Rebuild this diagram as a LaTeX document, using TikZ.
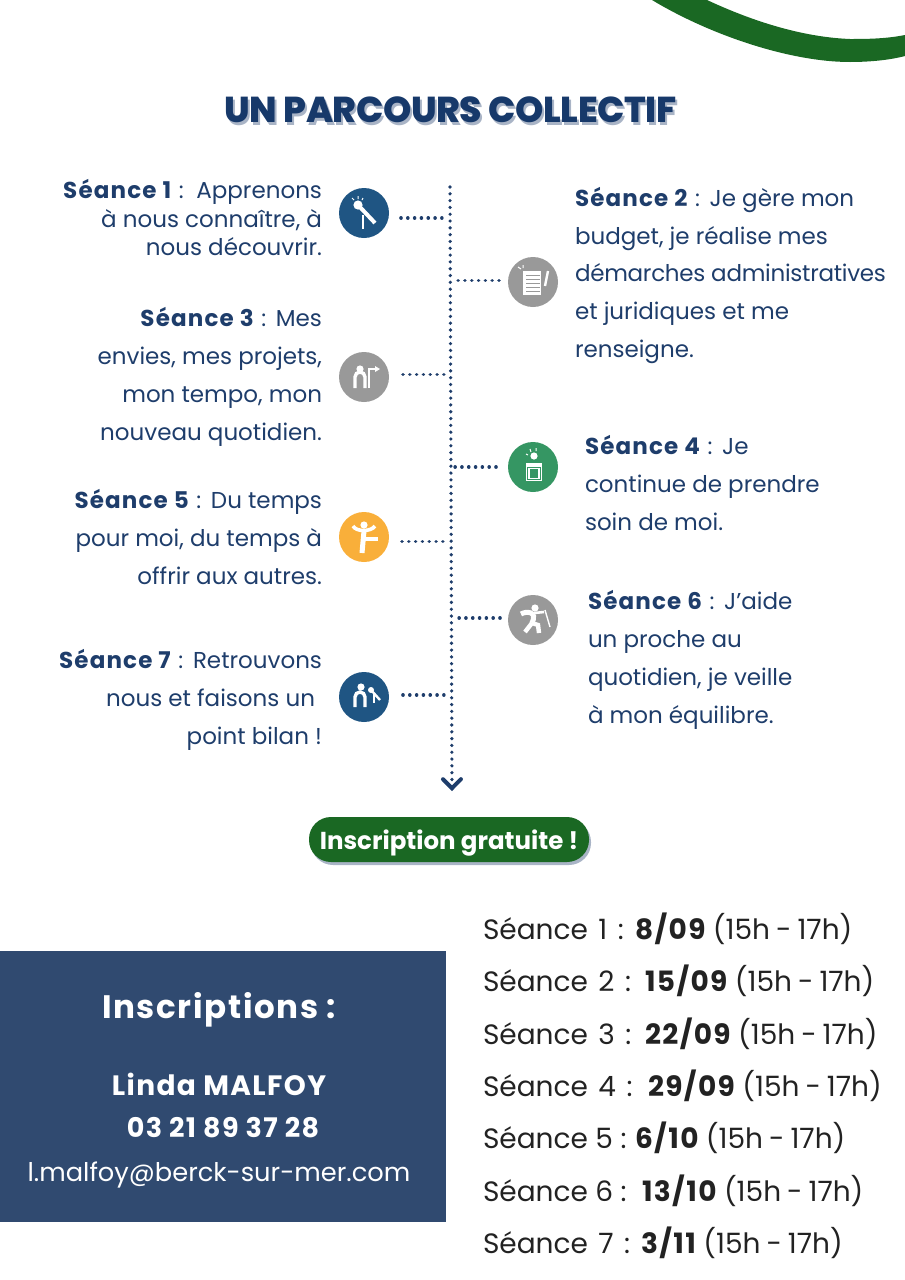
\documentclass[tikz,border=0pt]{standalone}
\usepackage{fontspec}
\setmainfont{Poppins}
\newfontfamily\titlefont{Poppins ExtraBold}[LetterSpace=-1]
\newfontfamily\widefont{Poppins}[WordSpace=1.4]
\usetikzlibrary{arrows.meta,positioning}

\definecolor{navy}{HTML}{1E3D6B}
\definecolor{titlenavy}{HTML}{17396A}
\definecolor{shade}{HTML}{A9B4C6}
\definecolor{deepgreen}{HTML}{1A6823}
\definecolor{boxblue}{HTML}{304A70}
\definecolor{icoblue}{HTML}{1F5583}
\definecolor{icogray}{HTML}{999999}
\definecolor{icogreen}{HTML}{359663}
\definecolor{icoyellow}{HTML}{F9AF3A}
\definecolor{ink}{HTML}{222222}

\newcommand{\bd}[1]{{\bfseries\addfontfeature{LetterSpace=5}#1}}
\newcommand{\sn}[1]{\bd{Séance #1}\hspace{1.5pt} :\hspace{1.5pt}}
\newcommand{\hours}{(15h\hspace{-1.5pt} - \hspace{-1.5pt}17h)}

\begin{document}
\begin{tikzpicture}[x=1pt,y=-1pt,line cap=butt]
  \tikzstyle{every node}=[inner sep=0pt,outer sep=0pt]
  \tikzstyle{ico}=[circle,minimum size=50pt,text=white]
  \tikzstyle{rtext}=[anchor=east,align=right,text=navy,font=\fontsize{23}{37.8}\selectfont]
  \tikzstyle{ltext}=[anchor=west,align=left,text=navy,font=\fontsize{23}{37.8}\selectfont]
  \tikzstyle{branch}=[draw=navy,line width=3.6pt,line cap=round,dash pattern=on 0.01pt off 6.8pt]
  \tikzstyle{glyph}=[draw=white,line width=1.4pt]
  \tikzstyle{seance}=[anchor=west,text=ink,font=\fontsize{28}{34}\selectfont]
  \tikzstyle{boxtext}=[text=white,font=\fontsize{25.7}{34}\selectfont]

  \useasboundingbox (0,0) rectangle (905,1280);

  % top corner
  \fill[deepgreen] (652,0) .. controls (710,35) and (790,62) .. (850,62)
    .. controls (870,62) and (890,60) .. (905,56) -- (905,35)
    .. controls (885,39) and (865,39) .. (850,39)
    .. controls (800,37) and (750,20) .. (707,0) -- cycle;

  \node[text=shade,font=\fontsize{36}{44}\titlefont] (titleshade) at (452.5,112.5) {UN PARCOURS COLLECTIF};
  \node[text=titlenavy,font=\fontsize{36}{44}\titlefont] (title) at (450.5,110) {UN PARCOURS COLLECTIF};

  % icons
  \node[ico,fill=icoblue]   (ico1) at (364,213) {};
  \node[ico,fill=icogray]   (ico2) at (533,282) {};
  \node[ico,fill=icogray]   (ico3) at (364,377) {};
  \node[ico,fill=icogreen]  (ico4) at (533,467) {};
  \node[ico,fill=icoyellow] (ico5) at (364,537) {};
  \node[ico,fill=icogray]   (ico6) at (533,620) {};
  \node[ico,fill=icoblue]   (ico7) at (364,697) {};

  % texts
  \node[rtext,font=\fontsize{23}{28.5}\selectfont] (txt1) [left=17pt of ico1.west,yshift=-5pt,anchor=east]
    {\sn{1}\hspace{3pt} Apprenons\\à nous connaître, à\\nous découvrir.};
  \node[ltext] (txt2) [right=17pt of ico2.east,yshift=6.5pt,anchor=west]
    {\sn{2} Je gère mon\\budget, je réalise mes\\{\addfontfeature{LetterSpace=-1.2}démarches administratives}\\et juridiques et me\\renseigne.};
  \node[rtext] (txt3) [left=17pt of ico3.west,yshift=0pt,anchor=east]
    {\sn{3} Mes\\envies, mes projets,\\mon tempo, mon\\nouveau quotidien.};
  \node[ltext] (txt4) [right=27pt of ico4.east,yshift=-16pt,anchor=west]
    {\sn{4} Je\\continue de prendre\\soin de moi.};
  \node[rtext] (txt5) [left=17pt of ico5.west,yshift=0pt,anchor=east]
    {\sn{5} Du temps\\pour moi, du temps à\\offrir aux autres.};
  \node[ltext] (txt6) [right=30pt of ico6.east,yshift=-40pt,anchor=west]
    {\sn{6} J'aide\\un proche au\\quotidien, je veille\\à mon équilibre.};
  \node[rtext] (txt7) [left=17pt of ico7.west,yshift=-3pt,anchor=east]
    {\sn{7} Retrouvons\\nous et faisons un\rule{7pt}{0pt}\\point bilan !};

  % timeline
  \coordinate (top) at (450,187);
  \coordinate (end) at (452,791);
  \coordinate (j1) at (447,218);
  \coordinate (j2) at (456,280.5);
  \coordinate (j3) at (449,374.5);
  \coordinate (j4) at (453,467);
  \coordinate (j5) at (448,541.5);
  \coordinate (j6) at (456,618);
  \coordinate (j7) at (449,695);
  \path (top) edge[branch,-{Straight Barb[length=9pt,width=18pt,line width=4pt,line cap=round]}] (end);
  \path (ico1.east |- j1) edge[branch,shorten <=12pt] (j1)
        (ico2.west |- j2) edge[branch,shorten <=9pt] (j2)
        (ico3.east |- j3) edge[branch,shorten <=14pt] (j3)
        (ico4.west |- j4) edge[branch,shorten <=12pt] (j4)
        (ico5.east |- j5) edge[branch,shorten <=13pt] (j5)
        (ico6.west |- j6) edge[branch,shorten <=8pt] (j6)
        (ico7.east |- j7) edge[branch,shorten <=14pt] (j7);

  % icon 1
  \begin{scope}[shift={(ico1)}]
    \fill[white] (-6,-8) circle (4.6);
    \draw[white,line width=4pt] (-6,-8) -- (11,10);
    \draw[glyph] (-1,2) -- (-1,16);
    \draw[glyph,line width=1pt] (-12,-15) -- (-10,-13) (-6,-17) -- (-6,-14) (-1,-15) -- (-2,-13);
  \end{scope}
  % icon 2
  \begin{scope}[shift={(ico2)}]
    \fill[white] (-10,-11) rectangle (8,13);
    \draw[icogray,line width=1pt] (-7,-7) -- (7,-7) (-7,-3) -- (7,-3) (-7,1) -- (7,1) (-7,5) -- (7,5) (-7,9) -- (7,9);
    \draw[white,line width=2.4pt] (15,-11) -- (12,4);
    \draw[glyph,line width=1pt] (-15,-15) -- (-12,-13) (-10,-17) -- (-10,-14);
  \end{scope}
  % icon 3
  \begin{scope}[shift={(ico3)}]
    \fill[white] (-4,-8) circle (3.6);
    \draw[white,line width=3.4pt] (-9,11) -- (-9,0) arc[start angle=180,end angle=360,radius=5] -- (1,11);
    \draw[glyph] (5,-9) -- (5,11);
    \draw[glyph] (5,-8) -- (12,-8);
    \fill[white] (11,-11) -- (16,-8) -- (11,-5) -- cycle;
  \end{scope}
  % icon 4
  \begin{scope}[shift={(ico4)}]
    \fill[white] (1,-11) circle (3.6);
    \fill[white] (-7,-4) rectangle (9,0);
    \draw[glyph,line width=1pt] (-6.5,-1) rectangle (8.5,13.5);
    \draw[glyph,line width=1.2pt] (-4,1.5) rectangle (6,11.5);
    \draw[glyph,line width=1pt] (-7,-13) -- (-5,-12) (-3,-18) -- (-2,-15) (3,-19) -- (3,-16);
  \end{scope}
  % icon 5
  \begin{scope}[shift={(ico5)}]
    \fill[white] (0,-12) circle (3.6);
    \draw[white,line width=3.6pt] (-11,-11) .. controls (-8,-5) and (7,-5) .. (11,-11);
    \draw[white,line width=5pt] (0,-6) -- (-2,16);
    \draw[white,line width=3.6pt] (-2,2) -- (14,2);
  \end{scope}
  % icon 6
  \begin{scope}[shift={(ico6)}]
    \fill[white] (2,-12) circle (3.6);
    \draw[white,line width=5pt] (-12,-6) .. controls (-7,-9) and (5,-9) .. (-1,3);
    \draw[white,line width=2.6pt] (1,-7) -- (11,-8);
    \draw[glyph] (12,-10) -- (17,7);
    \draw[white,line width=4.4pt] (-1,3) -- (-8,12);
    \draw[white,line width=4.4pt] (-1,3) -- (5,5) -- (6,13);
  \end{scope}
  % icon 7
  \begin{scope}[shift={(ico7)}]
    \fill[white] (-3,-10) circle (3.6);
    \draw[white,line width=3.4pt] (-9,10) -- (-9,0) arc[start angle=180,end angle=360,radius=5] -- (1,10);
    \fill[white] (7,-7) circle (3);
    \draw[white,line width=2.4pt] (7,-7) -- (16,3);
    \draw[glyph] (10,-3) -- (10,6);
  \end{scope}

  % button
  \node[fill=shade,rounded corners=22pt,minimum width=280pt,minimum height=45pt] (pillshade) at (451,842.5) {};
  \node[fill=deepgreen,rounded corners=22pt,minimum width=280pt,minimum height=45pt] (pill) at (449,839.5) {};
  \node[text=white,font=\fontsize{24.5}{30}\selectfont\bfseries] (pilltext) at (449,843) {Inscription gratuite !};

  % contact box
  \node[fill=boxblue,minimum width=446pt,minimum height=271pt] (box) at (223,1086.5) {};
  \node[boxtext,font=\fontsize{32.5}{40}\selectfont] (insc) at (219,1010) {\bd{Inscriptions :}};
  \node[boxtext,font=\fontsize{28}{34}\selectfont] (name) at (219,1084) {\bd{Linda MALFOY}};
  \node[boxtext,font=\fontsize{27}{34}\selectfont] (tel) at (223,1128) {\bd{03 21 89 37 28}};
  \node[boxtext] (mail) at (219,1175) {l.malfoy@berck-sur-mer.com};

  % dates
  \node[seance] (d1) at (483,929) {\makebox[152pt][l]{\widefont Séance 1 :}\bd{8/09} \hours};
  \node[seance] (d2) [below=52.3pt of d1.west,anchor=west] {\makebox[162pt][l]{\widefont Séance 2 :}\bd{15/09} \hours};
  \node[seance] (d3) [below=52.3pt of d2.west,anchor=west] {\makebox[162pt][l]{\widefont Séance 3 :}\bd{22/09} \hours};
  \node[seance] (d4) [below=52.3pt of d3.west,anchor=west] {\makebox[165pt][l]{\widefont Séance 4 :}\bd{29/09} \hours};
  \node[seance] (d5) [below=52.3pt of d4.west,anchor=west] {\makebox[152pt][l]{Séance 5 :}\bd{6/10} \hours};
  \node[seance] (d6) [below=52.3pt of d5.west,anchor=west] {\makebox[159pt][l]{Séance 6 :}\bd{13/10} \hours};
  \node[seance] (d7) [below=52.3pt of d6.west,anchor=west] {\makebox[158pt][l]{\widefont Séance 7 :}\bd{3/11} \hours};
\end{tikzpicture}
\end{document}
